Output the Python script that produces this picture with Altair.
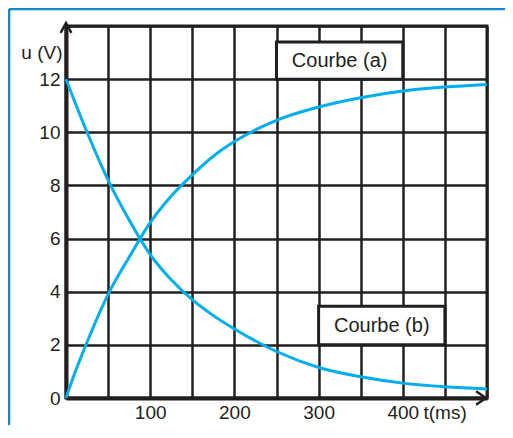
import altair as alt
import pandas as pd

# Courbe (a): charge
t_a = [0, 10, 25, 50, 75, 100, 125, 150, 175, 200, 250, 300, 350, 400, 450, 500]
u_a = [0, 0.9, 2.1, 3.9, 5.3, 6.6, 7.6, 8.4, 9.1, 9.65, 10.45, 10.95, 11.3, 11.55, 11.7, 11.8]
# Courbe (b): decharge
t_b = [0, 25, 50, 75, 100, 125, 150, 175, 200, 250, 300, 350, 400, 450, 500]
u_b = [12, 10, 8.2, 6.7, 5.4, 4.45, 3.7, 3.1, 2.6, 1.75, 1.15, 0.8, 0.56, 0.42, 0.34]

x_ticks = list(range(0, 501, 50))
y_ticks = list(range(0, 15))

box_labels = ["Courbe (a)", "Courbe (b)"]
box_t1 = [250, 300]
box_t2 = [400, 450]
box_u1 = [12, 2]
box_u2 = [13.4, 3.45]

INK = "#231f20"
BLUE = "#00aeef"
FRAME_BLUE = "#1585d0"
FONT = "Liberation Sans"

curves = pd.concat([
    pd.DataFrame({"t": t_a, "u": u_a, "c": "a"}),
    pd.DataFrame({"t": t_b, "u": u_b, "c": "b"}),
])
boxes = pd.DataFrame({
    "label": box_labels, "t1": box_t1, "t2": box_t2, "u1": box_u1, "u2": box_u2,
})
boxes["tm"] = (boxes.t1 + boxes.t2) / 2
boxes["um"] = (boxes.u1 + boxes.u2) / 2

W, H = 421, 372

xscale = alt.Scale(domain=[0, 500], nice=False, zero=False)
yscale = alt.Scale(domain=[0, 14], nice=False, zero=False)

xaxis = alt.Axis(
    values=x_ticks, grid=True, ticks=False, labelPadding=5,
    labelExpr="(datum.value % 100 == 0 && datum.value > 0 && datum.value < 500) ? datum.label : ''",
    title="t(ms)", titleX=357, titleY=5, titleAlign="left", titleBaseline="top",
    titleFontWeight="normal", titleFontSize=19, titleFont=FONT, titleColor=INK,
    labelFlush=False, labelOverlap=False,
)
yaxis = alt.Axis(
    values=y_ticks, grid=True, ticks=False, labelPadding=6,
    labelExpr="(datum.value % 2 == 0 && datum.value < 14) ? datum.label : ''",
    title="u (V)", titleAngle=0, titleX=-4, titleY=17, titleAlign="right",
    titleBaseline="top", titleFontWeight="normal", titleFontSize=19,
    titleFont=FONT, titleColor=INK, labelFlush=False, labelOverlap=False,
)

base = alt.Chart(curves).mark_line(color=BLUE, strokeWidth=3, interpolate="monotone").encode(
    x=alt.X("t:Q", scale=xscale, axis=xaxis),
    y=alt.Y("u:Q", scale=yscale, axis=yaxis),
    detail="c:N",
)

rects = alt.Chart(boxes).mark_rect(fill="white", stroke=INK, strokeWidth=3).encode(
    x=alt.X("t1:Q", scale=xscale), x2="t2:Q",
    y=alt.Y("u1:Q", scale=yscale), y2="u2:Q",
)
texts = alt.Chart(boxes).mark_text(font=FONT, fontSize=20, color=INK, align="center", baseline="middle").encode(
    x=alt.X("tm:Q", scale=xscale), y=alt.Y("um:Q", scale=yscale), text="label:N",
)

arrow_df = pd.DataFrame({"t": [0], "u": [14]})
arrow_up = alt.Chart(arrow_df).mark_point(
    shape="M-0.6,1.1L0,0L0.6,1.1", filled=False, stroke=INK, strokeWidth=2.5, size=324,
    yOffset=-3, opacity=1,
).encode(x=alt.X("t:Q", scale=xscale), y=alt.Y("u:Q", scale=yscale))
arrow_df2 = pd.DataFrame({"t": [500], "u": [0]})
arrow_right = alt.Chart(arrow_df2).mark_point(
    shape="M-1.1,-0.75L0,0L-1.1,0.75", filled=False, stroke=INK, strokeWidth=2.5, size=324,
    xOffset=-1, opacity=1,
).encode(x=alt.X("t:Q", scale=xscale), y=alt.Y("u:Q", scale=yscale))

blue_top = alt.Chart(arrow_df).mark_rule(color=FRAME_BLUE, strokeWidth=2.5).encode(
    x=alt.value(-57), x2=alt.value(W + 18), y=alt.value(-17)
)
blue_left = alt.Chart(arrow_df).mark_rule(color=FRAME_BLUE, strokeWidth=2.5).encode(
    x=alt.value(-57), y=alt.value(-17), y2=alt.value(H + 27)
)

chart = alt.layer(base, rects, texts, arrow_up, arrow_right, blue_top, blue_left).properties(
    width=W, height=H,
    padding={"left": 58, "top": 18, "right": 18, "bottom": 27},
    autosize=alt.AutoSizeParams(type="none"),
    background="white",
).configure_view(
    stroke=INK, strokeWidth=3,
).configure_axis(
    labelFont=FONT, labelFontSize=19, labelColor=INK,
    domainColor=INK, domainWidth=4,
    gridColor=INK, gridWidth=2.5, gridOpacity=1,
)

chart.save("out.html", embed_options={"renderer": "svg", "actions": False})
